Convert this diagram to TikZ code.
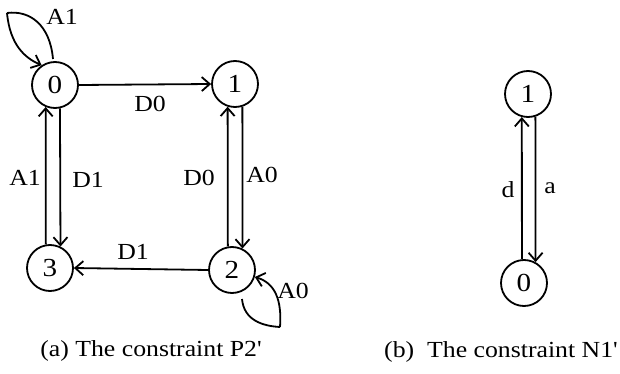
\documentclass[tikz,border=0pt]{standalone}
\usepackage{fontspec}
\setmainfont[FakeStretch=1.12,Ligatures=TeXOff]{Liberation Serif}
\usetikzlibrary{arrows.meta}
\begin{document}
\begin{tikzpicture}[x=1pt,y=-1pt,
  st/.style={circle,draw,line width=1.8pt,minimum size=46pt,inner sep=0pt,font=\fontsize{26}{26}\selectfont},
  tr/.style={line width=1.8pt,-{Straight Barb[length=8pt,width=14pt,line width=1.8pt]}},
  lp/.style={line width=1.8pt},
  lab/.style={font=\fontsize{23}{23}\selectfont,inner sep=0pt},
  captext/.style={font=\fontsize{23}{23}\selectfont,inner sep=0pt}]
\useasboundingbox (0,0) rectangle (620,374);
% (a)
\node[st] (a0) at (55,85) {0};
\node[st] (a1) at (235,84) {1};
\node[st] (a2) at (232,270) {2};
\node[st] (a3) at (50,268) {3};
\draw[tr] (a0.east) -- (a1.west);
\draw[tr] (a2.west) -- (a3.east);
\draw[tr] (a3.100) -- (a0.247);
\draw[tr] (a0.282) -- (a3.64);
\draw[tr] (a2.100) -- (a1.252);
\draw[tr] (a1.288) -- (a2.64);
% self loops
\coordinate (s0) at (53,59);
\coordinate (c0) at (7,13);
\draw[lp] (s0) .. controls (50,25) and (30,10) .. (c0);
\draw[tr] (c0) .. controls (10,45) and (25,58) .. (a0.124);
\coordinate (s2) at (242,299);
\coordinate (c2) at (280,327);
\draw[lp] (s2) .. controls (244,320) and (262,326) .. (c2);
\draw[tr] (c2) .. controls (282,300) and (275,283) .. (a2.343);
% labels
\node[lab] at (62,17) {A1};
\node[lab] at (150,104) {D0};
\node[lab] at (25,178) {A1};
\node[lab] at (88,180) {D1};
\node[lab] at (199,178) {D0};
\node[lab] at (262,175) {A0};
\node[lab] at (133,252) {D1};
\node[lab] at (293,291) {A0};
% (b)
\node[st] (b1) at (528,94) {1};
\node[st] (b0) at (524,283) {0};
\draw[tr] (b0.95) -- (b1.255);
\draw[tr] (b1.288) -- (b0.61);
\node[lab] at (508,190) {d};
\node[lab] at (550,188) {a};
% captions
\node[captext] at (151,351) {(a) The constraint P2'};
\node[captext] at (501,352) {(b)\ \ The constraint N1'};
\end{tikzpicture}
\end{document}
